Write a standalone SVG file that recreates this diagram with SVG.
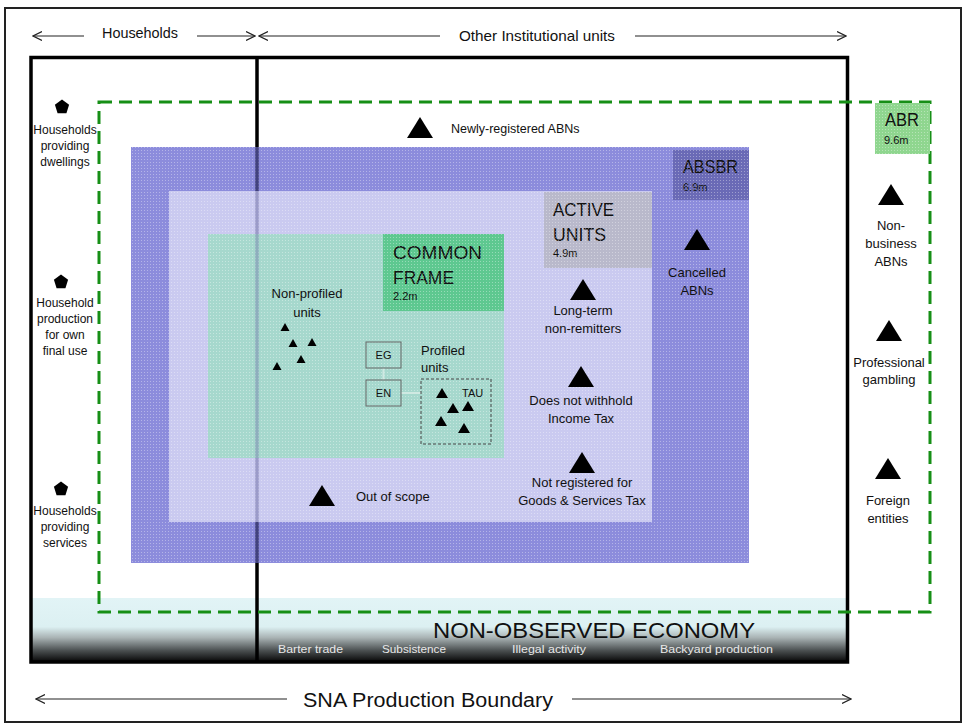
<svg xmlns="http://www.w3.org/2000/svg" width="964" height="725" viewBox="0 0 964 725">
<style>
text{font-family:"Liberation Sans",Arial,sans-serif;fill:#111}
.lbl{font-size:13px;text-anchor:middle}
.hh{font-size:12px;text-anchor:middle}
.big{font-size:18px}
.sm{font-size:11px}
.foot{font-size:10.5px;fill:#e8e8e8}
.arr{stroke:#222;stroke-width:1.2;fill:none}
</style>
<defs>
<marker id="ah" markerWidth="10" markerHeight="10" refX="9" refY="5" orient="auto" markerUnits="userSpaceOnUse">
<path d="M0,0.5 L9,5 L0,9.5" fill="none" stroke="#222" stroke-width="1.2"/>
</marker>
<path id="tri" d="M0,-11 L13,10 L-13,10 Z" fill="#000"/>
<path id="trim" d="M0,-5 L6,5 L-6,5 Z" fill="#000"/>
<path id="tris" d="M0,-4 L4.5,4 L-4.5,4 Z" fill="#000"/>
<path id="pent" d="M0,-7.5 L7.1,-2.3 L4.4,6.3 L-4.4,6.3 L-7.1,-2.3 Z" fill="#000"/>
<linearGradient id="noe" x1="0" y1="0" x2="0" y2="1">
<stop offset="0" stop-color="#e2f4f6"/>
<stop offset="0.45" stop-color="#dcf0f2"/>
<stop offset="0.62" stop-color="#a9b3b4"/>
<stop offset="0.82" stop-color="#4b5051"/>
<stop offset="1" stop-color="#050505"/>
</linearGradient>
<pattern id="dots" width="3" height="3" patternUnits="userSpaceOnUse">
<rect x="0" y="0" width="1" height="1" fill="#fff" fill-opacity="0.35"/>
</pattern>
</defs>

<rect id="frame" x="5" y="8" width="956" height="714" fill="#fff" stroke="#222" stroke-width="2"/>

<g id="noe-band">
<rect x="31" y="598" width="816" height="64" fill="url(#noe)"/>
<text x="433" y="638" font-size="22" textLength="322" lengthAdjust="spacingAndGlyphs">NON-OBSERVED ECONOMY</text>
<text class="foot" x="278" y="653" textLength="65" lengthAdjust="spacingAndGlyphs">Barter trade</text>
<text class="foot" x="382" y="653" textLength="64" lengthAdjust="spacingAndGlyphs">Subsistence</text>
<text class="foot" x="512" y="653" textLength="74" lengthAdjust="spacingAndGlyphs">Illegal activity</text>
<text class="foot" x="660" y="653" textLength="113" lengthAdjust="spacingAndGlyphs">Backyard production</text>
</g>

<g id="sna-box">
<rect x="31" y="57.5" width="816.5" height="604.5" fill="none" stroke="#000" stroke-width="3.5"/>
<line x1="257" y1="57.5" x2="257" y2="662" stroke="#000" stroke-width="3.5"/>
</g>

<g id="absbr">
<rect x="131" y="147" width="618" height="416" fill="#8c8cdc"/>
<rect x="673" y="150" width="76" height="50" fill="#6a6ab6"/>
<text class="big" x="683" y="173" textLength="55" lengthAdjust="spacingAndGlyphs">ABSBR</text>
<text class="sm" x="683" y="191">6.9m</text>
</g>

<g id="active-units">
<rect x="169" y="191" width="483" height="331" fill="#cacaf0"/>
<rect x="544" y="192" width="108" height="76" fill="#b9b9cb"/>
<text class="big" x="553" y="216" textLength="61" lengthAdjust="spacingAndGlyphs">ACTIVE</text>
<text class="big" x="553" y="241" textLength="53" lengthAdjust="spacingAndGlyphs">UNITS</text>
<text class="sm" x="553" y="257">4.9m</text>
</g>

<g id="common-frame">
<rect x="208" y="234" width="296" height="224" fill="#a6d8cd"/>
<rect x="383" y="234" width="121" height="77" fill="#5ec890"/>
<text class="big" x="393" y="259" textLength="89" lengthAdjust="spacingAndGlyphs">COMMON</text>
<text class="big" x="393" y="284" textLength="61" lengthAdjust="spacingAndGlyphs">FRAME</text>
<text class="sm" x="393" y="300">2.2m</text>
</g>

<rect x="131" y="147" width="618" height="416" fill="url(#dots)"/>
<g id="divider-overlay">
<line x1="257" y1="147" x2="257" y2="191" stroke="#101040" stroke-opacity="0.6" stroke-width="3.5"/>
<line x1="257" y1="522" x2="257" y2="563" stroke="#101040" stroke-opacity="0.6" stroke-width="3.5"/>
<line x1="257" y1="191" x2="257" y2="234" stroke="#303070" stroke-opacity="0.3" stroke-width="3.5"/>
<line x1="257" y1="458" x2="257" y2="522" stroke="#303070" stroke-opacity="0.3" stroke-width="3.5"/>
<line x1="257" y1="234" x2="257" y2="458" stroke="#6060a0" stroke-opacity="0.35" stroke-width="3.5"/>
</g>

<g id="abr">
<rect x="99" y="102" width="831" height="510" fill="none" stroke="#168f16" stroke-width="3" stroke-dasharray="13,7"/>
<rect x="875" y="103" width="55" height="51" fill="#8fd68f"/>
<rect x="875" y="103" width="55" height="51" fill="url(#dots)"/>
<text class="big" x="885" y="126" textLength="34" lengthAdjust="spacingAndGlyphs">ABR</text>
<text class="sm" x="884" y="144">9.6m</text>
</g>

<g id="households-dwellings">
<use href="#pent" x="62" y="107"/>
<text class="hh" x="65" y="134">Households</text>
<text class="hh" x="65" y="150">providing</text>
<text class="hh" x="65" y="166">dwellings</text>
</g>
<g id="households-production">
<use href="#pent" x="61" y="282"/>
<text class="hh" x="65" y="307">Household</text>
<text class="hh" x="65" y="323">production</text>
<text class="hh" x="65" y="339">for own</text>
<text class="hh" x="65" y="355">final use</text>
</g>
<g id="households-services">
<use href="#pent" x="61" y="489"/>
<text class="hh" x="65" y="515">Households</text>
<text class="hh" x="65" y="531">providing</text>
<text class="hh" x="65" y="547">services</text>
</g>

<g id="newly-registered">
<use href="#tri" x="420" y="128"/>
<text x="451" y="133" font-size="12.5">Newly-registered ABNs</text>
</g>
<g id="cancelled">
<use href="#tri" x="697" y="240"/>
<text class="lbl" x="697" y="277">Cancelled</text>
<text class="lbl" x="697" y="295">ABNs</text>
</g>
<g id="non-business">
<use href="#tri" x="891" y="195"/>
<text class="lbl" x="891" y="230">Non-</text>
<text class="lbl" x="891" y="248">business</text>
<text class="lbl" x="891" y="266">ABNs</text>
</g>
<g id="gambling">
<use href="#tri" x="889" y="331"/>
<text class="lbl" x="889" y="367">Professional</text>
<text class="lbl" x="889" y="384">gambling</text>
</g>
<g id="foreign">
<use href="#tri" x="888" y="469"/>
<text class="lbl" x="888" y="505">Foreign</text>
<text class="lbl" x="888" y="523">entities</text>
</g>
<g id="long-term">
<use href="#tri" x="583" y="290"/>
<text class="lbl" x="583" y="315">Long-term</text>
<text class="lbl" x="583" y="333">non-remitters</text>
</g>
<g id="withhold">
<use href="#tri" x="581" y="377"/>
<text class="lbl" x="581" y="405">Does not withhold</text>
<text class="lbl" x="581" y="423">Income Tax</text>
</g>
<g id="gst">
<use href="#tri" x="582" y="463"/>
<text class="lbl" x="582" y="487">Not registered for</text>
<text class="lbl" x="582" y="505">Goods &amp; Services Tax</text>
</g>
<g id="out-of-scope">
<use href="#tri" x="322" y="496"/>
<text x="356" y="501" font-size="13">Out of scope</text>
</g>

<g id="non-profiled">
<text class="lbl" x="307" y="298">Non-profiled</text>
<text class="lbl" x="307" y="317">units</text>
<use href="#tris" x="285" y="327"/>
<use href="#tris" x="293" y="343"/>
<use href="#tris" x="312" y="342"/>
<use href="#tris" x="301" y="359"/>
<use href="#tris" x="277" y="366"/>
</g>

<g id="connectors">
<line class="arr" x1="84" y1="36" x2="33" y2="36" marker-end="url(#ah)"/>
<line class="arr" x1="197" y1="36" x2="255" y2="36" marker-end="url(#ah)"/>
<line class="arr" x1="440" y1="36" x2="259" y2="36" marker-end="url(#ah)"/>
<line class="arr" x1="635" y1="36" x2="846" y2="36" marker-end="url(#ah)"/>
<line class="arr" x1="287" y1="699" x2="36" y2="699" marker-end="url(#ah)"/>
<line class="arr" x1="572" y1="699" x2="851" y2="699" marker-end="url(#ah)"/>
<line x1="383.5" y1="368" x2="383.5" y2="380" stroke="#cfe9e2" stroke-width="2"/>
<line x1="401" y1="393" x2="421" y2="393" stroke="#cfe9e2" stroke-width="2"/>
</g>

<g id="top-labels">
<text x="140" y="38" font-size="14" text-anchor="middle" textLength="76" lengthAdjust="spacingAndGlyphs">Households</text>
<text x="459" y="41" font-size="14.5" textLength="156" lengthAdjust="spacingAndGlyphs">Other Institutional units</text>
<text x="303" y="707" font-size="20" textLength="250" lengthAdjust="spacingAndGlyphs">SNA Production Boundary</text>
</g>

<g id="eg">
<rect x="366" y="342" width="35" height="26" fill="none" stroke="#666" stroke-width="1"/>
<text x="383.5" y="359" font-size="11" text-anchor="middle">EG</text>
</g>
<g id="en">
<rect x="366" y="380" width="35" height="26" fill="none" stroke="#666" stroke-width="1"/>
<text x="383.5" y="397" font-size="11" text-anchor="middle">EN</text>
</g>
<g id="profiled">
<text x="421" y="355" font-size="13">Profiled</text>
<text x="421" y="372" font-size="13">units</text>
<rect x="421" y="379" width="70" height="65" fill="none" stroke="#444" stroke-width="1" stroke-dasharray="3,2"/>
<text x="462" y="397" font-size="11">TAU</text>
<use href="#trim" x="442" y="393"/>
<use href="#trim" x="453" y="408"/>
<use href="#trim" x="468" y="406"/>
<use href="#trim" x="441" y="421"/>
<use href="#trim" x="464" y="428"/>
</g>
</svg>
